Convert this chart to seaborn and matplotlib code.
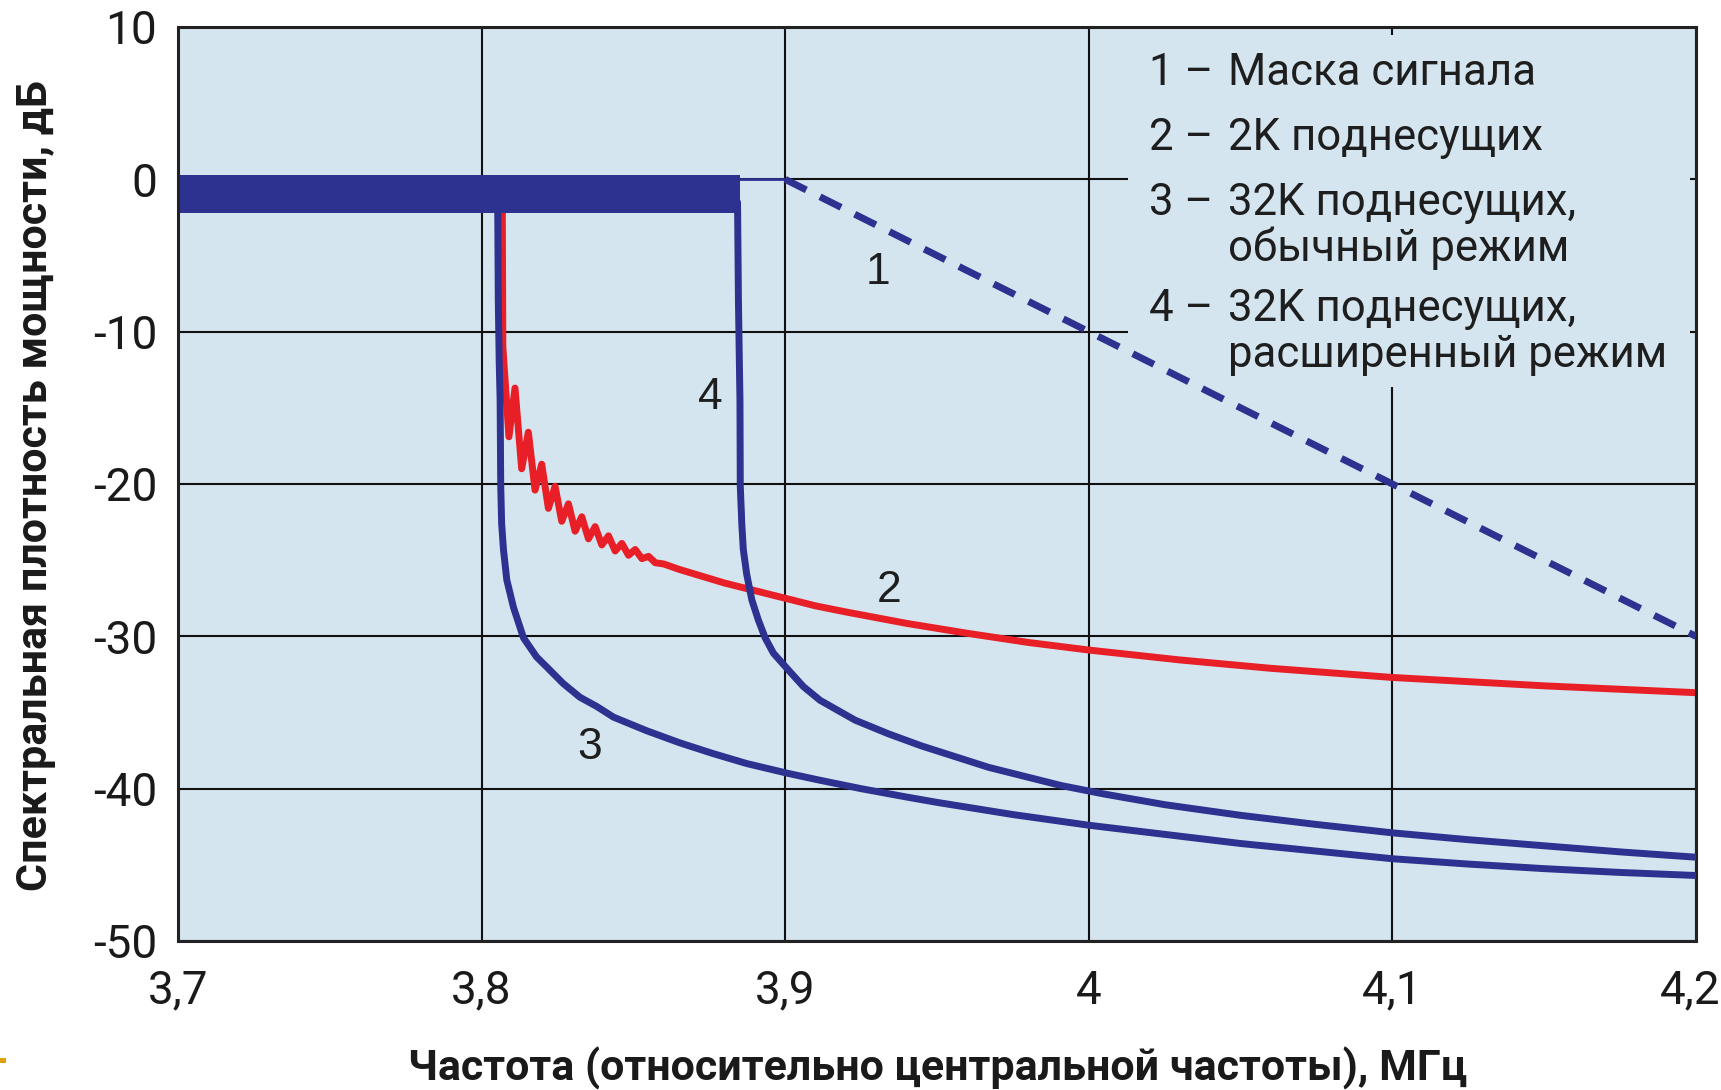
import matplotlib
matplotlib.use("Agg")
import matplotlib.pyplot as plt
import matplotlib.transforms as mtransforms
from matplotlib.patches import Rectangle
import seaborn as sns

# Axis ticks
x_ticks = [3.7, 3.8, 3.9, 4.0, 4.1, 4.2]
x_tick_labels = ["3,7", "3,8", "3,9", "4", "4,1", "4,2"]
y_ticks = [-50, -40, -30, -20, -10, 0, 10]
y_tick_labels = ["-50", "-40", "-30", "-20", "-10", "0", "10"]

# 1 – signal mask
mask_flat_x = [3.70, 3.90]
mask_flat_y = [0.0, 0.0]
mask_slope_x = [3.90, 4.00, 4.10, 4.20]
mask_slope_y = [0.0, -10.0, -20.0, -30.0]

# passband ripple of the 32K modes (envelope of the dense ripple)
band_x = [3.7005, 3.8852]
band_hi = [0.3, 0.3]
band_lo = [-2.2, -2.2]

# 2 – 2K carriers (ripple just outside the band, then smooth roll-off)
c2_x = [3.8068, 3.8070, 3.8090, 3.8110, 3.8132, 3.8154, 3.8176, 3.8198,
        3.8220, 3.8242, 3.8264, 3.8286, 3.8308, 3.8330, 3.8352, 3.8374,
        3.8396, 3.8418, 3.8440, 3.8462, 3.8484, 3.8506, 3.8528, 3.8550,
        3.8572, 3.8600, 3.8650, 3.8700, 3.8800, 3.8900, 3.9000, 3.9100,
        3.9200, 3.9400, 3.9600, 3.9800, 4.0000, 4.0300, 4.0600, 4.1000,
        4.1500, 4.2000]
c2_y = [-1.0, -11.0, -16.9, -13.7, -19.0, -16.6, -20.4, -18.7,
        -21.6, -20.15, -22.45, -21.3, -23.1, -22.15, -23.6, -22.8,
        -24.0, -23.4, -24.4, -23.9, -24.68, -24.3, -24.9, -24.75,
        -25.17, -25.25, -25.6, -25.9, -26.5, -27.0, -27.5, -28.0,
        -28.4, -29.15, -29.8, -30.4, -30.9, -31.55, -32.1, -32.7,
        -33.25, -33.7]

# 3 – 32K carriers, normal mode
c3_x = [3.8053, 3.8055, 3.8058, 3.8061, 3.8063, 3.8066, 3.8072, 3.8083,
        3.8105, 3.8138, 3.8181, 3.8214, 3.8269, 3.8324, 3.8379, 3.8434,
        3.8544, 3.8654, 3.8763, 3.8873, 3.9010, 3.9115, 3.9250, 3.9400,
        3.9500, 3.9750, 4.0000, 4.0250, 4.0500, 4.0750, 4.1000, 4.1250,
        4.1500, 4.1750, 4.2000]
c3_y = [-1.5, -8.0, -12.0, -14.5, -20.1, -22.6, -24.3, -26.3,
        -28.1, -30.1, -31.35, -32.0, -33.1, -34.0, -34.6, -35.3,
        -36.2, -37.0, -37.7, -38.35, -39.0, -39.45, -40.0, -40.55,
        -40.9, -41.7, -42.4, -43.0, -43.6, -44.1, -44.6, -44.95,
        -45.25, -45.5, -45.7]

# 4 – 32K carriers, extended mode
c4_x = [3.8843, 3.8846, 3.8849, 3.8851, 3.8852, 3.8857, 3.8862, 3.8873,
        3.8890, 3.8911, 3.8934, 3.8961, 3.9010, 3.9060, 3.9115, 3.9230,
        3.9340, 3.9450, 3.9560, 3.9670, 3.9810, 3.9910, 4.0050, 4.0250,
        4.0500, 4.0750, 4.1000, 4.1250, 4.1500, 4.1750, 4.2000]
c4_y = [-1.5, -8.0, -12.0, -14.5, -20.1, -22.6, -24.3, -25.9,
        -27.6, -28.9, -30.1, -31.1, -32.2, -33.3, -34.2, -35.5,
        -36.4, -37.2, -37.9, -38.6, -39.3, -39.8, -40.35, -41.05,
        -41.75, -42.35, -42.9, -43.35, -43.75, -44.15, -44.5]

# curve number labels
curve_ids = ["1", "2", "3", "4"]
curve_id_x = [3.9306, 3.9342, 3.8357, 3.8752]
curve_id_y = [-6.1, -27.0, -37.3, -14.3]

# key text
key_numbers = ["1 –", "2 –", "3 –", "", "4 –", ""]
key_texts = ["Маска сигнала", "2K поднесущих", "32K поднесущих,",
             "обычный режим", "32K поднесущих,", "расширенный режим"]

BLUE = "#2d3190"
RED = "#e81f27"
BG = "#d4e5ef"
LW = 5.0

sns.set_style("white")
plt.rcParams["font.family"] = ["Roboto", "DejaVu Sans"]
plt.rcParams["axes.unicode_minus"] = False

fig = plt.figure(figsize=(17.21, 10.9), dpi=100)
fig.patch.set_facecolor("white")
L, R, T, B = 178, 1696, 27, 941
W, H = 1721, 1090
ax = fig.add_axes([L / W, 1 - B / H, (R - L) / W, (B - T) / H])
ax.set_facecolor(BG)

ax.set_xlim(3.7, 4.2)
ax.set_ylim(-50, 10)
ax.set_xticks(x_ticks)
ax.set_xticklabels(x_tick_labels)
ax.set_yticks(y_ticks)
ax.set_yticklabels(y_tick_labels)
ax.tick_params(axis="both", length=0, labelsize=33, colors="#1a1a1a")
ax.tick_params(axis="x", pad=20)
ax.tick_params(axis="y", pad=15)
ax.set_axisbelow(True)
ax.grid(True, color="#111111", linewidth=1.5)
for s in ax.spines.values():
    s.set_color("#222222")
    s.set_linewidth(2.2)

# keep the last frequency label inside the figure
last = ax.get_xticklabels()[-1]
last.set_transform(last.get_transform() +
                   mtransforms.ScaledTranslation(-0.06, 0, fig.dpi_scale_trans))

# key area covering the grid
ax.add_patch(Rectangle((0.6258, 0.606), 0.370, 0.385, transform=ax.transAxes,
                       facecolor=BG, edgecolor="none", zorder=1))

# 2K curve
sns.lineplot(x=c2_x, y=c2_y, ax=ax, color=RED, linewidth=LW, sort=False,
             estimator=None, zorder=2)
# mask
sns.lineplot(x=mask_flat_x, y=mask_flat_y, ax=ax, color=BLUE, linewidth=2.0,
             sort=False, estimator=None, zorder=2.5)
sns.lineplot(x=mask_slope_x, y=mask_slope_y, ax=ax, color=BLUE, linewidth=LW,
             linestyle=(0, (3.4, 2.2)), sort=False, estimator=None, zorder=3)
# 32K curves
sns.lineplot(x=c3_x, y=c3_y, ax=ax, color=BLUE, linewidth=LW, sort=False,
             estimator=None, zorder=3)
sns.lineplot(x=c4_x, y=c4_y, ax=ax, color=BLUE, linewidth=LW, sort=False,
             estimator=None, zorder=3)
# dense passband ripple
ax.fill_between(band_x, band_lo, band_hi, color=BLUE, linewidth=0, zorder=3.5)

for lab, lx, ly in zip(curve_ids, curve_id_x, curve_id_y):
    ax.text(lx, ly, lab, fontsize=32, family=["Liberation Sans", "DejaVu Sans"],
            color="#1e1e1e", ha="center", va="center", zorder=4)

key_baselines = [85, 150, 215, 261, 321, 367]
for num, txt, yb in zip(key_numbers, key_texts, key_baselines):
    yy = (B - yb) / (B - T)
    if num:
        ax.text((1149 - L) / (R - L), yy, num, transform=ax.transAxes,
                fontsize=31.5, color="#1e1e1e", ha="left", va="baseline", zorder=4)
    ax.text((1228 - L) / (R - L), yy, txt, transform=ax.transAxes,
            fontsize=31.5, color="#1e1e1e", ha="left", va="baseline", zorder=4)

fig.text(47 / W, 1 - 485.5 / H, "Спектральная плотность мощности, дБ",
         rotation=90, rotation_mode="anchor", ha="center", va="baseline",
         fontsize=31, fontweight="bold", color="#1a1a1a")
fig.text(938 / W, 1 - 1080 / H,
         "Частота (относительно центральной частоты), МГц",
         ha="center", va="baseline", fontsize=31, fontweight="bold",
         color="#1a1a1a")

# small marker at the lower left edge
fig.patches.append(Rectangle((0, 1 - 1063 / H), 6 / W, 5 / H,
                             transform=fig.transFigure, facecolor="#e0a010",
                             edgecolor="none"))

fig.savefig("out.png", dpi=100)
